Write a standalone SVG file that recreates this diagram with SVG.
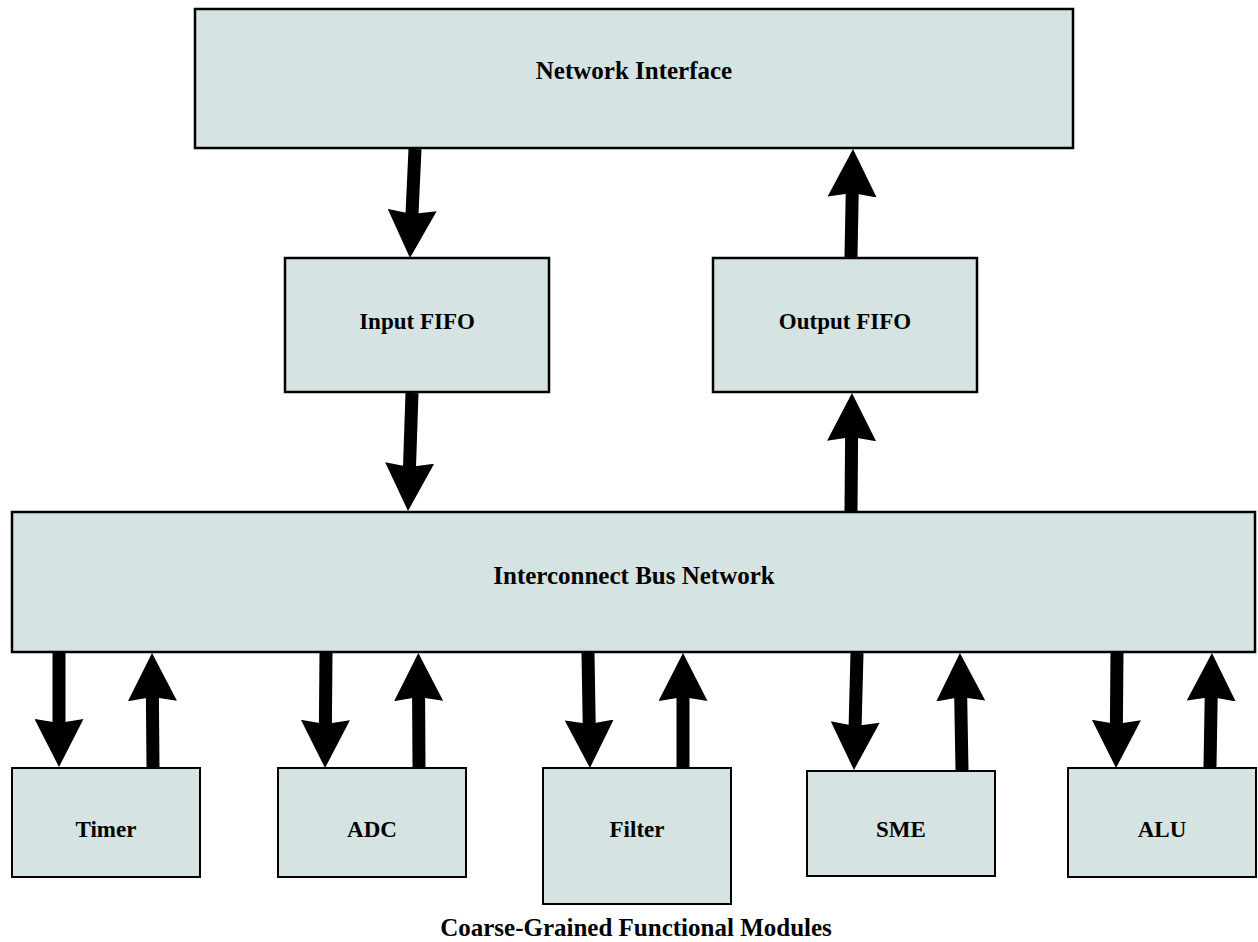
<svg xmlns="http://www.w3.org/2000/svg" width="1258" height="942" viewBox="0 0 1258 942">
  <style>
    .box { fill: #d6e3e3; stroke: #000; stroke-width: 2.5; }
    .sm { fill: #d6e3e3; stroke: #000; stroke-width: 2; }
    .lbl { font-family: "Liberation Serif", "Times New Roman", serif; font-weight: bold; font-size: 23px; fill: #000; text-anchor: middle; }
    .big { font-size: 25px; }
    .wire { stroke: #000; stroke-width: 13; fill: none; marker-end: url(#head); }
  </style>
  <defs>
    <marker id="head" markerUnits="userSpaceOnUse" viewBox="0 0 48 49" markerWidth="48" markerHeight="49" refX="4" refY="24.5" orient="auto">
      <path d="M0,0 L48,24.5 L0,49 L4,24.5 Z" fill="#000"/>
    </marker>
  </defs>
  <rect width="1258" height="942" fill="#fff"/>

  <g id="network-interface">
    <rect class="box" x="195" y="9" width="878" height="139"/>
    <text class="lbl big" x="634" y="79">Network Interface</text>
  </g>
  <g id="input-fifo">
    <rect class="box" x="285" y="258" width="264" height="134"/>
    <text class="lbl" x="417" y="329">Input FIFO</text>
  </g>
  <g id="output-fifo">
    <rect class="box" x="713" y="258" width="264" height="134"/>
    <text class="lbl" x="845" y="329">Output FIFO</text>
  </g>
  <g id="bus">
    <rect class="box" x="12" y="512" width="1243" height="140"/>
    <text class="lbl big" x="634" y="584">Interconnect Bus Network</text>
  </g>
  <g id="timer">
    <rect class="sm" x="12" y="768" width="188" height="109"/>
    <text class="lbl" x="106" y="837">Timer</text>
  </g>
  <g id="adc">
    <rect class="sm" x="278" y="768" width="188" height="109"/>
    <text class="lbl" x="372" y="837">ADC</text>
  </g>
  <g id="filter">
    <rect class="sm" x="543" y="768" width="188" height="136"/>
    <text class="lbl" x="637" y="837">Filter</text>
  </g>
  <g id="sme">
    <rect class="sm" x="807" y="771" width="188" height="105"/>
    <text class="lbl" x="901" y="837">SME</text>
  </g>
  <g id="alu">
    <rect class="sm" x="1068" y="768" width="188" height="109"/>
    <text class="lbl" x="1162" y="837">ALU</text>
  </g>

  <g id="connectors">
    <line class="wire" x1="415" y1="149" x2="412" y2="214"/>
    <line class="wire" x1="412" y1="393" x2="409.5" y2="467"/>
    <line class="wire" x1="851" y1="511" x2="851.6" y2="437"/>
    <line class="wire" x1="851" y1="257" x2="852.2" y2="193"/>

    <line class="wire" x1="59" y1="653" x2="59" y2="723"/>
    <line class="wire" x1="153" y1="767" x2="152.4" y2="697"/>
    <line class="wire" x1="326" y1="653" x2="325.4" y2="724"/>
    <line class="wire" x1="419" y1="767" x2="418.6" y2="697"/>
    <line class="wire" x1="588" y1="653" x2="589.2" y2="724"/>
    <line class="wire" x1="683" y1="767" x2="683" y2="697"/>
    <line class="wire" x1="857" y1="653" x2="855.1" y2="726"/>
    <line class="wire" x1="962" y1="770" x2="960.7" y2="697"/>
    <line class="wire" x1="1117" y1="653" x2="1116.4" y2="724"/>
    <line class="wire" x1="1210" y1="767" x2="1211.2" y2="697"/>
  </g>

  <text class="lbl big" x="636" y="936">Coarse-Grained Functional Modules</text>
</svg>
